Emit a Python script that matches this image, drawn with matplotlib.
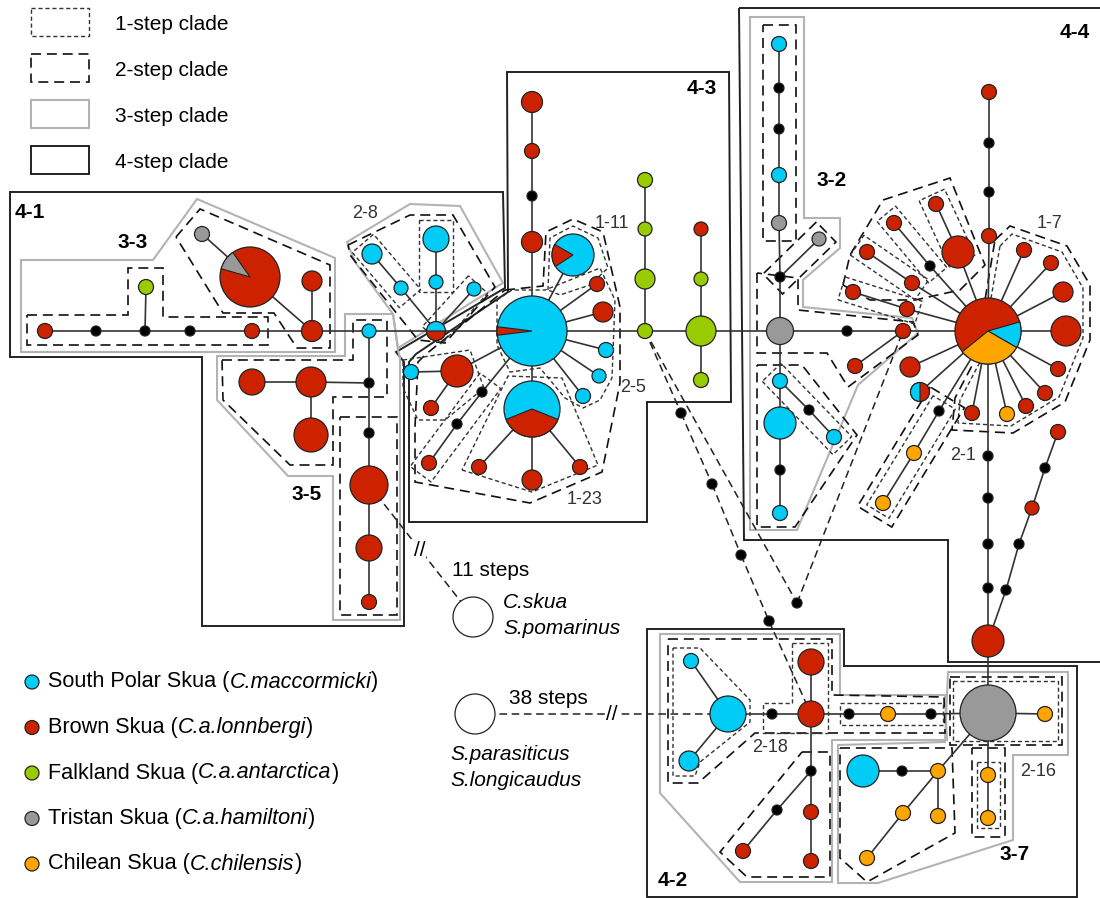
"""
Haplotype network of skuas with nested clade outlines.
"""

import matplotlib

matplotlib.use("Agg")
import matplotlib.pyplot as plt
import numpy as np
from matplotlib.patches import Circle, Wedge, Polygon

plt.rcParams["font.family"] = ["Liberation Sans", "DejaVu Sans"]

COLORS = {"B": "#00ccf5", "R": "#cc2200", "G": "#99cc00", "T": "#999999",
          "C": "#ffa500", "K": "black", "W": "white"}

# haplotypes: (name, x, y, radius, species) -- P = mixed (pie)
NODES_41 = [
    ("n1", 45, 331, 7.5, "R"), ("n2", 96, 331, 5, "K"), ("n3", 145, 331, 5, "K"),
    ("n4", 146, 287, 7.5, "G"), ("n5", 190, 331, 5, "K"), ("n6", 252, 331, 7.5, "R"),
    ("n7", 312, 331, 10.5, "R"), ("n8", 312, 281, 10, "R"), ("n9", 250, 277, 30, "P"),
    ("n10", 202, 234, 7.5, "T"), ("n11", 369, 331, 7, "B"), ("n12", 436, 331, 9.5, "P"),
    ("n13", 372, 254, 10, "B"), ("n14", 401, 288, 7, "B"), ("n15", 436, 239, 13, "B"),
    ("n16", 436, 282, 7, "B"), ("n17", 474, 289, 7, "B"), ("n18", 369, 383, 5, "K"),
    ("n19", 252, 382, 13, "R"), ("n20", 311, 382, 15, "R"), ("n21", 311, 435, 17, "R"),
    ("n22", 369, 433, 5, "K"), ("n23", 369, 485, 19, "R"), ("n24", 369, 548, 13, "R"),
    ("n25", 369, 602, 7.5, "R"),
]
NODES_43 = [
    ("n30", 532, 331, 35, "P"), ("n31", 532, 102, 10.5, "R"), ("n32", 532, 151, 7.5, "R"),
    ("n33", 532, 196, 5, "K"), ("n34", 532, 242, 10.5, "R"), ("n35", 573, 255, 21, "P"),
    ("n36", 597, 284, 7.5, "R"), ("n37", 603, 312, 10, "R"), ("n38", 606, 350, 7.5, "B"),
    ("n39", 599, 376, 7, "B"), ("n40", 583, 396, 7.5, "B"), ("n41", 532, 409, 28, "P"),
    ("n42", 479, 467, 7.5, "R"), ("n43", 532, 480, 10, "R"), ("n44", 580, 467, 7.5, "R"),
    ("n45", 482, 392, 5, "K"), ("n46", 457, 424, 5, "K"), ("n47", 429, 463, 7.5, "R"),
    ("n48", 457, 371, 16, "R"), ("n49", 411, 372, 7.5, "B"), ("n50", 431, 408, 7.5, "R"),
    ("n51", 645, 180, 7.5, "G"), ("n52", 645, 229, 7, "G"), ("n53", 645, 279, 10, "G"),
    ("n54", 645, 331, 7.5, "G"), ("n55", 701, 229, 7, "R"), ("n56", 701, 279, 7, "G"),
    ("n57", 701, 331, 15, "G"), ("n58", 701, 380, 7.5, "G"),
]
NODES_44 = [
    ("n60", 780, 331, 13.5, "T"), ("n61", 780, 277, 5, "K"), ("n62", 779, 223, 7.5, "T"),
    ("n63", 779, 175, 7.5, "B"), ("n64", 779, 129, 5, "K"), ("n65", 779, 88, 5, "K"),
    ("n66", 779, 44, 7.5, "B"), ("n67", 819, 239, 7, "T"), ("n68", 780, 381, 7.5, "B"),
    ("n69", 780, 423, 16, "B"), ("n70", 780, 470, 5, "K"), ("n71", 780, 513, 7.5, "B"),
    ("n72", 809, 410, 5, "K"), ("n73", 834, 437, 7.5, "B"), ("n74", 847, 331, 5, "K"),
    ("n75", 903, 331, 7.5, "R"), ("n76", 855, 366, 7.5, "R"), ("n77", 907, 309, 7.5, "R"),
    ("n78", 853, 292, 7.5, "R"), ("n79", 912, 283, 7.5, "R"), ("n80", 867, 252, 7.5, "R"),
    ("n81", 930, 266, 5, "K"), ("n82", 894, 223, 7.5, "R"), ("n83", 936, 204, 7.5, "R"),
    ("n84", 958, 252, 16, "R"), ("n85", 989, 236, 7.5, "R"), ("n86", 989, 192, 5, "K"),
    ("n87", 989, 143, 5, "K"), ("n88", 989, 92, 7.5, "R"), ("n89", 988, 331, 33, "P"),
    ("n90", 1024, 250, 7.5, "R"), ("n91", 1051, 263, 7.5, "R"), ("n92", 1063, 292, 10, "R"),
    ("n93", 1066, 331, 15, "R"), ("n94", 1058, 369, 7.5, "R"), ("n95", 1045, 393, 7.5, "R"),
    ("n96", 1026, 406, 7.5, "R"), ("n97", 1007, 414, 7.5, "C"), ("n98", 972, 413, 7.5, "R"),
    ("n99", 910, 367, 10, "R"), ("n100", 920, 392, 9.5, "P"), ("n101", 939, 411, 5, "K"),
    ("n102", 914, 453, 7.5, "C"), ("n103", 883, 503, 7.5, "C"), ("n104", 988, 456, 5, "K"),
    ("n105", 988, 498, 5, "K"), ("n106", 988, 544, 5, "K"), ("n107", 988, 588, 5, "K"),
    ("n108", 988, 641, 16, "R"), ("n109", 1058, 432, 7.5, "R"), ("n110", 1045, 468, 5, "K"),
    ("n111", 1032, 508, 7, "R"), ("n112", 1019, 544, 5, "K"), ("n113", 1006, 590, 5, "K"),
]
NODES_LINK = [
    ("n120", 681, 413, 5, "K"), ("n121", 712, 484, 5, "K"), ("n122", 741, 555, 5, "K"),
    ("n123", 769, 621, 5, "K"), ("n124", 797, 603, 5, "K"),
]
NODES_42 = [
    ("n130", 988, 713, 28, "T"), ("n131", 728, 714, 18, "B"), ("n132", 691, 661, 7.5, "B"),
    ("n133", 689, 761, 10, "B"), ("n134", 772, 714, 5, "K"), ("n135", 811, 714, 13, "R"),
    ("n136", 811, 662, 13, "R"), ("n137", 849, 714, 5, "K"), ("n138", 888, 714, 7.5, "C"),
    ("n139", 931, 714, 5, "K"), ("n140", 1045, 714, 7.5, "C"), ("n141", 811, 771, 5, "K"),
    ("n142", 811, 812, 7.5, "R"), ("n143", 811, 861, 7.5, "R"), ("n144", 777, 810, 5, "K"),
    ("n145", 743, 851, 7.5, "R"), ("n146", 863, 771, 16, "B"), ("n147", 902, 771, 5, "K"),
    ("n148", 938, 771, 7.5, "C"), ("n149", 903, 813, 7.5, "C"), ("n150", 938, 816, 7.5, "C"),
    ("n151", 867, 858, 7.5, "C"), ("n152", 988, 775, 7.5, "C"), ("n153", 988, 818, 7.5, "C"),
]
OUTGROUPS = [("out1", 473, 617, 20, "W"), ("out2", 475, 714, 20, "W")]

# mixed haplotypes: base species, then slices (species, from, to) in degrees
PIES = {
    "n9": ("R", [("T", 125, 164)]),
    "n12": ("B", [("R", 180, 360)]),
    "n30": ("B", [("R", 173, 187)]),
    "n35": ("B", [("R", 150, 213)]),
    "n41": ("B", [("R", 202, 338)]),
    "n89": ("R", [("B", -30, 16), ("C", -141, -30)]),
    "n100": ("R", [("B", 90, 270)]),
}

EDGES = [
    ("n1", "n2"), ("n2", "n3"), ("n3", "n5"), ("n5", "n6"), ("n6", "n7"), ("n7", "n11"),
    ("n11", "n12"), ("n12", "n30"), ("n30", "n54"), ("n54", "n57"), ("n57", "n60"),
    ("n60", "n74"), ("n74", "n75"), ("n75", "n89"), ("n89", "n93"),
    ("n3", "n4"), ("n7", "n8"), ("n7", "n9"), ("n9", "n10"),
    ("n11", "n18"), ("n18", "n22"), ("n22", "n23"), ("n23", "n24"), ("n24", "n25"),
    ("n18", "n20"), ("n20", "n19"), ("n20", "n21"),
    ("n12", "n14"), ("n14", "n13"), ("n12", "n16"), ("n16", "n15"), ("n12", "n17"),
    ("n30", "n34"), ("n34", "n33"), ("n33", "n32"), ("n32", "n31"),
    ("n30", "n35"), ("n30", "n36"), ("n30", "n37"), ("n30", "n38"), ("n30", "n39"),
    ("n30", "n40"), ("n30", "n41"), ("n30", "n48"), ("n48", "n49"), ("n48", "n50"),
    ("n30", "n45"), ("n45", "n46"), ("n46", "n47"),
    ("n41", "n42"), ("n41", "n43"), ("n41", "n44"),
    ("n51", "n52"), ("n52", "n53"), ("n53", "n54"),
    ("n55", "n56"), ("n56", "n57"), ("n57", "n58"),
    ("n60", "n61"), ("n61", "n62"), ("n62", "n63"), ("n63", "n64"), ("n64", "n65"),
    ("n65", "n66"), ("n61", "n67"),
    ("n60", "n68"), ("n68", "n69"), ("n69", "n70"), ("n70", "n71"), ("n68", "n72"), ("n72", "n73"),
    ("n75", "n76"), ("n89", "n77"), ("n77", "n78"), ("n89", "n79"), ("n79", "n80"),
    ("n89", "n81"), ("n81", "n82"), ("n83", "n84"), ("n84", "n89"),
    ("n89", "n85"), ("n85", "n86"), ("n86", "n87"), ("n87", "n88"),
    ("n89", "n90"), ("n89", "n91"), ("n89", "n92"), ("n89", "n94"), ("n89", "n95"),
    ("n89", "n96"), ("n89", "n97"), ("n89", "n98"), ("n89", "n99"), ("n89", "n100"),
    ("n89", "n101"), ("n101", "n102"), ("n102", "n103"),
    ("n89", "n104"), ("n104", "n105"), ("n105", "n106"), ("n106", "n107"), ("n107", "n108"),
    ("n108", "n113"), ("n113", "n112"), ("n112", "n111"), ("n111", "n110"), ("n110", "n109"),
    ("n108", "n130"),
    ("n131", "n132"), ("n131", "n133"), ("n131", "n134"), ("n134", "n135"), ("n135", "n136"),
    ("n135", "n137"), ("n137", "n138"), ("n138", "n139"), ("n139", "n130"), ("n130", "n140"),
    ("n135", "n141"), ("n141", "n142"), ("n142", "n143"), ("n141", "n144"), ("n144", "n145"),
    ("n146", "n147"), ("n147", "n148"), ("n130", "n148"), ("n148", "n149"), ("n149", "n151"),
    ("n148", "n150"), ("n130", "n152"), ("n152", "n153"),
]
DASHED_EDGES = [
    ("n54", "n120"), ("n120", "n121"), ("n121", "n122"), ("n122", "n123"), ("n123", "n135"),
    ("n54", "n124"), ("n124", "n75"), ("n23", "out1"), ("out2", "n131"),
]

# nested clade outlines (pixel coordinates of the original figure)
CLADE4 = [
    [(10, 192), (503, 192), (505, 288), (396, 352), (404, 362), (404, 626), (202, 626), (202, 357), (10, 357)],
    [(507, 72), (729, 72), (731, 402), (647, 402), (647, 522), (409, 522), (409, 362), (416, 354), (508, 292)],
    [(739, 8), (1104, 8), (1104, 662), (948, 662), (948, 540), (744, 540)],
    [(647, 629), (844, 629), (844, 666), (1077, 666), (1077, 897), (647, 897)],
]
CLADE3 = [
    [(21, 260), (153, 260), (197, 199), (335, 258), (335, 352), (21, 352)],
    [(217, 356), (345, 356), (345, 314), (393, 314), (398, 350), (400, 358), (400, 620),
     (333, 620), (333, 476), (288, 476), (217, 400)],
    [(347, 242), (410, 204), (460, 206), (503, 283), (398, 348), (393, 314), (355, 262)],
    [(750, 17), (804, 17), (804, 218), (840, 218), (840, 248), (803, 280), (803, 307),
     (912, 318), (918, 333), (858, 385), (797, 530), (750, 530)],
    [(660, 634), (840, 634), (840, 695), (945, 695), (947, 740), (832, 740), (832, 882), (740, 882), (660, 793)],
    [(948, 672), (1068, 672), (1068, 755), (1013, 755), (1013, 840), (878, 883), (838, 883), (838, 745), (945, 742)],
]
CLADE2 = [
    [(27, 315), (128, 315), (128, 268), (163, 268), (163, 317), (268, 317), (268, 345), (27, 345)],
    [(176, 237), (200, 209), (330, 265), (330, 348), (297, 348), (274, 313), (223, 313)],
    [(222, 360), (353, 360), (353, 320), (387, 320), (387, 397), (333, 397), (333, 465), (290, 465), (223, 400)],
    [(340, 417), (397, 417), (397, 615), (340, 615)],
    [(348, 245), (410, 215), (453, 215), (495, 287), (445, 343), (418, 340), (350, 255)],
    [(505, 290), (543, 286), (546, 232), (573, 219), (603, 232), (620, 307), (620, 383), (602, 472),
     (530, 503), (415, 482), (415, 427), (418, 362), (425, 355)],
    [(763, 25), (796, 25), (796, 241), (763, 241)],
    [(757, 273), (757, 353), (827, 353), (848, 387), (918, 335), (913, 322), (798, 310), (798, 278)],
    [(757, 365), (802, 365), (857, 435), (795, 527), (757, 527)],
    [(843, 285), (850, 255), (883, 200), (950, 178), (985, 265), (960, 290), (915, 300), (870, 300)],
    [(995, 240), (1010, 226), (1067, 246), (1090, 285), (1090, 340), (1065, 402), (1013, 433),
     (952, 430), (955, 398), (975, 360)],
    [(668, 639), (832, 639), (832, 695), (944, 697), (945, 733), (755, 733), (698, 783), (668, 783)],
    [(950, 677), (1062, 677), (1062, 745), (950, 745)],
    [(972, 748), (1005, 748), (1005, 837), (972, 837)],
    [(840, 748), (952, 748), (955, 833), (867, 882), (840, 858)],
    [(802, 752), (830, 752), (830, 877), (747, 877), (720, 852)],
]
CLADE1 = [
    [(419, 220), (453, 220), (453, 292), (419, 292)],
    [(403, 360), (470, 350), (484, 388), (445, 420), (418, 420), (403, 388)],
    [(462, 470), (532, 492), (598, 465), (562, 378), (508, 376)],
    [(497, 300), (512, 290), (545, 290), (600, 268), (615, 300), (612, 378), (600, 400),
     (583, 408), (565, 398), (540, 368), (510, 372), (497, 345)],
    [(548, 290), (550, 238), (573, 226), (598, 238), (608, 268), (590, 285), (560, 295)],
    [(1000, 246), (1012, 234), (1062, 252), (1083, 288), (1083, 338), (1059, 397), (1011, 426),
     (958, 423), (960, 400), (980, 362)],
    [(673, 648), (700, 648), (750, 700), (750, 722), (700, 762), (695, 776), (673, 776)],
    [(792, 643), (828, 643), (828, 733), (763, 733), (763, 703), (792, 703)],
    [(840, 703), (943, 703), (943, 725), (840, 725)],
    [(953, 681), (1058, 681), (1058, 741), (953, 741)],
    [(977, 762), (1000, 762), (1000, 828), (977, 828)],
]
# boxes drawn along a branch: (from, to, half width, overhang)
BOX1 = [("n13", "n14", 14, 14), ("n17", "n12", 13, 6), ("n45", "n47", 13, 14),
        ("n68", "n73", 13, 12), ("n101", "n103", 13, 10), ("n82", "n81", 12, 12),
        ("n83", "n84", 14, 10), ("n80", "n79", 12, 12), ("n78", "n77", 12, 12)]
BOX2 = [("n67", "n61", 14, 10), ("n101", "n103", 20, 16)]

CLADE_LABELS_BOLD = [("4-1", 30, 213), ("3-3", 133, 242), ("3-5", 307, 494), ("4-3", 702, 89),
                     ("4-4", 1075, 32), ("3-2", 832, 180), ("4-2", 673, 880), ("3-7", 1015, 855)]
CLADE_LABELS = [("2-8", 365, 214), ("1-11", 612, 223), ("2-5", 633, 387), ("1-23", 585, 500),
                ("1-7", 1050, 224), ("2-1", 963, 455), ("2-18", 770, 747), ("2-16", 1038, 771)]

LEGEND_STEPS = ["1-step clade", "2-step clade", "3-step clade", "4-step clade"]
SPECIES = [("B", "South Polar Skua", "C.maccormicki"), ("R", "Brown Skua", "C.a.lonnbergi"),
           ("G", "Falkland Skua", "C.a.antarctica"), ("T", "Tristan Skua", "C.a.hamiltoni"),
           ("C", "Chilean Skua", "C.chilensis")]

STYLE = {
    1: dict(color="#333333", lw=1.0, ls=(0, (3, 2))),
    2: dict(color="#111111", lw=1.2, ls=(0, (6, 3.5))),
    3: dict(color="#b3b3b3", lw=1.5, ls="-"),
    4: dict(color="#222222", lw=1.4, ls="-"),
}


def box_along(p, q, w, ext):
    p = np.asarray(p, float)
    q = np.asarray(q, float)
    d = (q - p) / np.hypot(*(q - p))
    n = np.array([-d[1], d[0]])
    a, b = p - d * ext, q + d * ext
    return [a + n * w, b + n * w, b - n * w, a - n * w]


def outline(ax, pts, level):
    st = STYLE[level]
    ax.add_patch(Polygon(pts, closed=True, fill=False, edgecolor=st["color"],
                         lw=st["lw"], ls=st["ls"], zorder=1))


def text_run(ax, renderer, x, y, parts, fontsize):
    # parts: list of (text, italic) drawn one after the other
    for txt, italic in parts:
        t = ax.text(x, y, txt, fontsize=fontsize, style="italic" if italic else "normal",
                    ha="left", va="center")
        x += t.get_window_extent(renderer).width  # 1 data unit == 1 pixel here


def main():
    nodes = {}
    for group in (NODES_41, NODES_43, NODES_44, NODES_LINK, NODES_42, OUTGROUPS):
        for name, x, y, r, kind in group:
            nodes[name] = (x, y, r, kind)

    fig = plt.figure(figsize=(11, 8.98), dpi=100)
    ax = fig.add_axes([0, 0, 1, 1])
    ax.set_xlim(0, 1100)
    ax.set_ylim(898, 0)
    ax.axis("off")
    renderer = fig.canvas.get_renderer()

    for level, polys in ((4, CLADE4), (3, CLADE3), (2, CLADE2), (1, CLADE1)):
        for pts in polys:
            outline(ax, pts, level)
    for level, boxes in ((1, BOX1), (2, BOX2)):
        for a, b, w, ext in boxes:
            outline(ax, box_along(nodes[a][:2], nodes[b][:2], w, ext), level)

    for a, b in EDGES:
        xa, ya = nodes[a][:2]
        xb, yb = nodes[b][:2]
        ax.plot([xa, xb], [ya, yb], color="#333333", lw=1.2, zorder=2)
    for a, b in DASHED_EDGES:
        xa, ya = nodes[a][:2]
        xb, yb = nodes[b][:2]
        ax.plot([xa, xb], [ya, yb], color="#222222", lw=1.1, ls=(0, (5, 3)), zorder=2)

    for name, (x, y, r, kind) in nodes.items():
        if kind == "P":
            base, slices = PIES[name]
            ax.add_patch(Circle((x, y), r, facecolor=COLORS[base], edgecolor="#222222",
                                lw=0.9, zorder=3))
            for sp, a1, a2 in slices:
                # y axis points down, so screen angles are mirrored
                ax.add_patch(Wedge((x, y), r, -a2, -a1, facecolor=COLORS[sp],
                                   edgecolor="#222222", lw=0.8, zorder=3.1))
        else:
            ax.add_patch(Circle((x, y), r, facecolor=COLORS[kind], edgecolor="#222222",
                                lw=0.9, zorder=3))

    # break marks on the long outgroup branches
    ax.text(420, 550, "//", fontsize=15, ha="center", va="center", zorder=4,
            bbox=dict(facecolor="white", edgecolor="none", pad=0))
    ax.text(612, 714, "//", fontsize=15, ha="center", va="center", zorder=4,
            bbox=dict(facecolor="white", edgecolor="none", pad=0))
    ax.text(452, 570, "11 steps", fontsize=15, ha="left", va="center")
    ax.text(503, 603, "C.skua", fontsize=15, style="italic", ha="left", va="center")
    ax.text(503, 628, "S.pomarinus", fontsize=15, style="italic", ha="left", va="center")
    ax.text(548, 699, "38 steps", fontsize=15, ha="center", va="center",
            bbox=dict(facecolor="white", edgecolor="none", pad=0.5), zorder=4)
    ax.text(450, 755, "S.parasiticus", fontsize=15, style="italic", ha="left", va="center")
    ax.text(450, 780, "S.longicaudus", fontsize=15, style="italic", ha="left", va="center")

    for text, x, y in CLADE_LABELS_BOLD:
        ax.text(x, y, text, fontsize=15, fontweight="bold", ha="center", va="center", zorder=4)
    for text, x, y in CLADE_LABELS:
        ax.text(x, y, text, fontsize=13, color="#333333", ha="center", va="center", zorder=4)

    # legend for the clade outlines
    for i, label in enumerate(LEGEND_STEPS):
        y0 = 8 + i * 46
        st = STYLE[i + 1]
        ax.add_patch(Polygon([(31, y0), (89, y0), (89, y0 + 28), (31, y0 + 28)], closed=True,
                             fill=False, edgecolor=st["color"], lw=st["lw"], ls=st["ls"]))
        ax.text(115, y0 + 16, label, fontsize=15, ha="left", va="center")

    # legend for species colours
    for i, (kind, common, latin) in enumerate(SPECIES):
        y0 = 682 + i * 45.5
        ax.add_patch(Circle((32, y0), 7, facecolor=COLORS[kind], edgecolor="#222222", lw=0.9))
        text_run(ax, renderer, 48, y0,
                 [(common + " (", False), (latin, True), (")", False)], 15.6)

    fig.savefig("out.png", dpi=100)
    plt.close(fig)


if __name__ == "__main__":
    main()
